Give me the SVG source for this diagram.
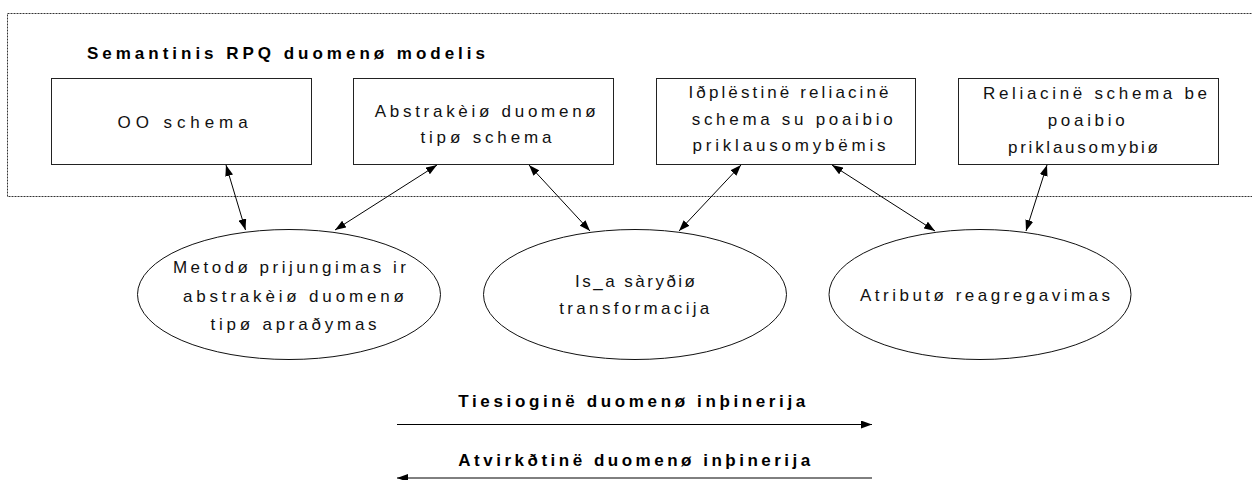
<svg xmlns="http://www.w3.org/2000/svg" width="1252" height="480" viewBox="0 0 1252 480">
<style>
.frame{fill:none;stroke:#333;stroke-width:1;stroke-dasharray:2 1}
.box{fill:#fff;stroke:#222;stroke-width:1}
.ell{fill:#fff;stroke:#111;stroke-width:1}
.t{font-family:"Liberation Sans",Arial,sans-serif;font-size:17px;fill:#111}
.b{font-family:"Liberation Sans",Arial,sans-serif;font-size:17px;font-weight:bold;fill:#000}
.c{fill:none;stroke:#000;stroke-width:1}
</style>
<defs>
<marker id="ah" viewBox="0 0 11 8" refX="11" refY="4" markerWidth="11" markerHeight="8" markerUnits="userSpaceOnUse" orient="auto-start-reverse"><path d="M0,0 L11,4 L0,8 z" fill="#000"/></marker>
</defs>
<rect class="frame" x="7.5" y="13.5" width="1260" height="183"/>
<text class="b" x="87" y="59" textLength="398" lengthAdjust="spacing">Semantinis RPQ duomenø modelis</text>

<g id="box1">
<rect class="box" x="51.5" y="78.5" width="260" height="86"/>
<text class="t" x="117.6" y="128" textLength="130" lengthAdjust="spacing">OO schema</text>
</g>
<g id="box2">
<rect class="box" x="353.5" y="78.5" width="260" height="86"/>
<text class="t" x="374.7" y="117" textLength="221" lengthAdjust="spacing">Abstrakèiø duomenø</text>
<text class="t" x="420.4" y="143" textLength="131" lengthAdjust="spacing">tipø schema</text>
</g>
<g id="box3">
<rect class="box" x="656.5" y="78.5" width="259" height="86"/>
<text class="t" x="688.5" y="98" textLength="200" lengthAdjust="spacing">Iðplëstinë reliacinë</text>
<text class="t" x="691.7" y="124.5" textLength="201" lengthAdjust="spacing">schema su poaibio</text>
<text class="t" x="692.5" y="151" textLength="193" lengthAdjust="spacing">priklausomybëmis</text>
</g>
<g id="box4">
<rect class="box" x="958.5" y="78.5" width="260" height="86"/>
<text class="t" x="983" y="99.3" textLength="224" lengthAdjust="spacing">Reliacinë schema be</text>
<text class="t" x="1047.7" y="126" textLength="77" lengthAdjust="spacing">poaibio</text>
<text class="t" x="1008" y="152.7" textLength="150" lengthAdjust="spacing">priklausomybiø</text>
</g>

<g id="ell1">
<ellipse class="ell" cx="289" cy="294.5" rx="151.5" ry="65"/>
<text class="t" x="172.9" y="273.3" textLength="233" lengthAdjust="spacing">Metodø prijungimas ir</text>
<text class="t" x="182.9" y="301.7" textLength="221" lengthAdjust="spacing">abstrakèiø duomenø</text>
<text class="t" x="210.6" y="330" textLength="166" lengthAdjust="spacing">tipø apraðymas</text>
</g>
<g id="ell2">
<ellipse class="ell" cx="635" cy="294.5" rx="151.5" ry="65"/>
<text class="t" x="575" y="286.7" textLength="120" lengthAdjust="spacing">Is_a sàryðiø</text>
<text class="t" x="559.3" y="314.3" textLength="150" lengthAdjust="spacing">transformacija</text>
</g>
<g id="ell3">
<ellipse class="ell" cx="980" cy="294.5" rx="151" ry="65"/>
<text class="t" x="860" y="301" textLength="250" lengthAdjust="spacing">Atributø reagregavimas</text>
</g>

<g id="connectors">
<line class="c" x1="226" y1="165" x2="245.5" y2="230" marker-start="url(#ah)" marker-end="url(#ah)"/>
<line class="c" x1="437" y1="165" x2="335" y2="230" marker-start="url(#ah)" marker-end="url(#ah)"/>
<line class="c" x1="529" y1="165" x2="590" y2="231" marker-start="url(#ah)" marker-end="url(#ah)"/>
<line class="c" x1="741" y1="165" x2="679" y2="231" marker-start="url(#ah)" marker-end="url(#ah)"/>
<line class="c" x1="832" y1="165" x2="935" y2="231" marker-start="url(#ah)" marker-end="url(#ah)"/>
<line class="c" x1="1047" y1="165" x2="1026" y2="231" marker-start="url(#ah)" marker-end="url(#ah)"/>
<line class="c" x1="397" y1="424.5" x2="872" y2="424.5" marker-end="url(#ah)"/>
<line class="c" x1="872" y1="478" x2="397" y2="478" marker-end="url(#ah)"/>
</g>
<text class="b" x="458.3" y="407" textLength="347" lengthAdjust="spacing">Tiesioginë duomenø inþinerija</text>
<text class="b" x="458.3" y="465.5" textLength="352" lengthAdjust="spacing">Atvirkðtinë duomenø inþinerija</text>
</svg>
